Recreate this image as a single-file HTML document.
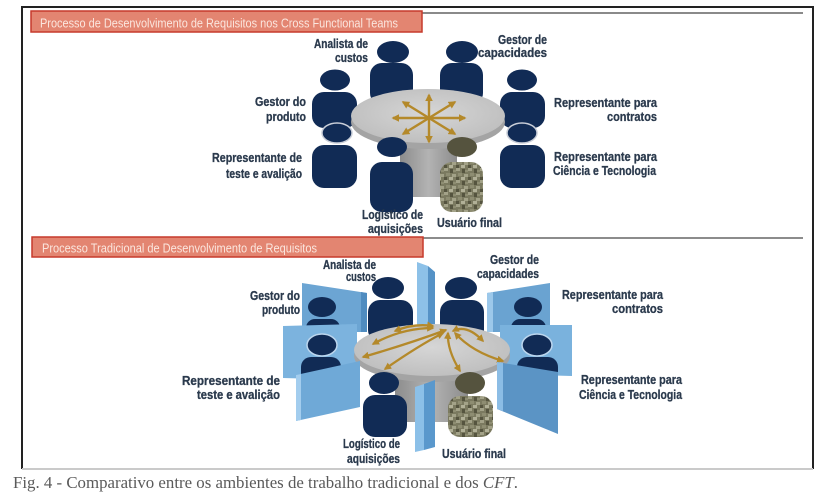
<!DOCTYPE html>
<html>
<head>
<meta charset="utf-8">
<style>
html,body{margin:0;padding:0;background:#fff;}
svg{display:block;}
.lb{font-family:"Liberation Sans Narrow","Liberation Sans",sans-serif;font-weight:bold;font-size:12.5px;fill:#2b3a4d;stroke:#2b3a4d;stroke-width:0.3px;}
.hd{font-family:"Liberation Sans Narrow","Liberation Sans",sans-serif;font-size:13px;fill:#fbe6de;}
.cap{font-family:"Liberation Serif",serif;font-size:16.5px;fill:#5a5a5a;}
</style>
</head>
<body>
<svg width="822" height="498" viewBox="0 0 822 498" xmlns="http://www.w3.org/2000/svg">
<defs>
  <pattern id="camo" width="12" height="12" patternUnits="userSpaceOnUse">
    <rect width="12" height="12" fill="#7b7a60"/>
    <rect x="0" y="0" width="4" height="3" fill="#a3a288"/>
    <rect x="6" y="1" width="3" height="4" fill="#55543f"/>
    <rect x="2" y="5" width="4" height="3" fill="#8e8d72"/>
    <rect x="8" y="6" width="4" height="3" fill="#a3a288"/>
    <rect x="0" y="9" width="3" height="3" fill="#55543f"/>
    <rect x="5" y="9" width="4" height="3" fill="#b1b097"/>
    <rect x="9" y="2" width="3" height="2" fill="#8e8d72"/>
  </pattern>
  <linearGradient id="ped" x1="0" x2="1" y1="0" y2="0">
    <stop offset="0" stop-color="#8c8c8c"/>
    <stop offset="0.5" stop-color="#b3b3b3"/>
    <stop offset="1" stop-color="#8c8c8c"/>
  </linearGradient>
  <radialGradient id="tabtop" cx="0.5" cy="0.45" r="0.6">
    <stop offset="0" stop-color="#d6d6d6"/>
    <stop offset="1" stop-color="#bdbdbd"/>
  </radialGradient>
  <marker id="ah" viewBox="0 0 10 10" refX="8" refY="5" markerWidth="3.2" markerHeight="3.2" orient="auto-start-reverse">
    <path d="M0,0 L10,5 L0,10 z" fill="#b4892a"/>
  </marker>
</defs>

<!-- Frame -->
<line x1="22" y1="7" x2="813" y2="7" stroke="#222" stroke-width="2"/>
<line x1="22" y1="6" x2="22" y2="469" stroke="#222" stroke-width="2"/>
<line x1="813" y1="6" x2="813" y2="469" stroke="#222" stroke-width="2"/>
<line x1="22" y1="469" x2="813" y2="469" stroke="#cacaca" stroke-width="2"/>
<line x1="422" y1="13" x2="803" y2="13" stroke="#8a8a8a" stroke-width="2"/>
<line x1="423" y1="238" x2="803" y2="238" stroke="#666" stroke-width="1.5"/>

<!-- Headers -->
<rect x="31" y="11" width="391" height="21" fill="#e38571" stroke="#c63a2c" stroke-width="1.5"/>
<text class="hd" x="40" y="27.5" textLength="358" lengthAdjust="spacingAndGlyphs">Processo de Desenvolvimento de Requisitos nos Cross Functional Teams</text>
<rect x="32" y="237" width="391" height="20" fill="#e38571" stroke="#c63a2c" stroke-width="1.5"/>
<text class="hd" x="42" y="252.5" textLength="275" lengthAdjust="spacingAndGlyphs">Processo Tradicional de Desenvolvimento de Requisitos</text>

<!-- ===== TOP SCENE ===== -->
<g fill="#112b55">
  <ellipse cx="393" cy="52" rx="16" ry="11"/>
  <rect x="370" y="63" width="43" height="42" rx="12"/>
  <ellipse cx="462" cy="52" rx="16" ry="11"/>
  <rect x="440" y="63" width="43" height="42" rx="12"/>
  <ellipse cx="335" cy="80" rx="15" ry="10.5"/>
  <rect x="312" y="92" width="45" height="36" rx="12"/>
  <ellipse cx="522" cy="80" rx="15" ry="10.5"/>
  <rect x="500" y="92" width="45" height="36" rx="12"/>
</g>
<!-- table -->
<rect x="400" y="138" width="57" height="59" fill="url(#ped)"/>
<ellipse cx="428" cy="122" rx="77" ry="27" fill="#a4a4a4"/>
<ellipse cx="428" cy="116" rx="77" ry="27" fill="url(#tabtop)"/>
<!-- star arrows -->
<g stroke="#b4892a" stroke-width="2.4" fill="none" marker-end="url(#ah)">
  <line x1="429" y1="118" x2="393" y2="118"/>
  <line x1="429" y1="118" x2="465" y2="118"/>
  <line x1="429" y1="118" x2="429" y2="95"/>
  <line x1="429" y1="118" x2="429" y2="142"/>
  <line x1="429" y1="118" x2="403" y2="102"/>
  <line x1="429" y1="118" x2="455" y2="102"/>
  <line x1="429" y1="118" x2="403" y2="134"/>
  <line x1="429" y1="118" x2="455" y2="134"/>
</g>
<g fill="#112b55">
  <ellipse cx="337" cy="133" rx="15" ry="10" stroke="#c9ced8" stroke-width="1.5"/>
  <rect x="312" y="145" width="45" height="43" rx="12"/>
  <ellipse cx="522" cy="133" rx="15" ry="10" stroke="#c9ced8" stroke-width="1.5"/>
  <rect x="500" y="145" width="45" height="43" rx="12"/>
  <ellipse cx="392" cy="147" rx="15" ry="10"/>
  <rect x="370" y="162" width="43" height="50" rx="12"/>
</g>
<ellipse cx="462" cy="147" rx="15" ry="10" fill="#55533e"/>
<rect x="440" y="162" width="43" height="50" rx="12" fill="url(#camo)"/>

<!-- top labels -->
<text class="lb" x="314" y="48" textLength="54" lengthAdjust="spacingAndGlyphs">Analista de</text>
<text class="lb" x="335" y="62" textLength="33" lengthAdjust="spacingAndGlyphs">custos</text>
<text class="lb" x="498" y="44" textLength="49" lengthAdjust="spacingAndGlyphs">Gestor de</text>
<text class="lb" x="478" y="57" textLength="69" lengthAdjust="spacingAndGlyphs">capacidades</text>
<text class="lb" x="255" y="106" textLength="51" lengthAdjust="spacingAndGlyphs">Gestor do</text>
<text class="lb" x="266" y="121" textLength="40" lengthAdjust="spacingAndGlyphs">produto</text>
<text class="lb" x="212" y="162" textLength="90" lengthAdjust="spacingAndGlyphs">Representante de</text>
<text class="lb" x="226" y="178" textLength="76" lengthAdjust="spacingAndGlyphs">teste e avalição</text>
<text class="lb" x="554" y="107" textLength="103" lengthAdjust="spacingAndGlyphs">Representante para</text>
<text class="lb" x="607" y="121" textLength="50" lengthAdjust="spacingAndGlyphs">contratos</text>
<text class="lb" x="554" y="161" textLength="103" lengthAdjust="spacingAndGlyphs">Representante para</text>
<text class="lb" x="553" y="175" textLength="103" lengthAdjust="spacingAndGlyphs">Ciência e Tecnologia</text>
<text class="lb" x="362" y="219" textLength="61" lengthAdjust="spacingAndGlyphs">Logístico de</text>
<text class="lb" x="368" y="233" textLength="55" lengthAdjust="spacingAndGlyphs">aquisições</text>
<text class="lb" x="437" y="227" textLength="65" lengthAdjust="spacingAndGlyphs">Usuário final</text>

<!-- ===== BOTTOM SCENE ===== -->
<!-- back center panel -->
<polygon points="417,262 428,266 428,332 417,332" fill="#8dc1e8"/>
<polygon points="428,266 435,272 435,332 428,332" fill="#5592c6"/>
<!-- back people -->
<g fill="#112b55">
  <ellipse cx="388" cy="288" rx="16" ry="11"/>
  <rect x="368" y="300" width="45" height="42" rx="12"/>
  <ellipse cx="461" cy="288" rx="16" ry="11"/>
  <rect x="440" y="300" width="44" height="42" rx="12"/>
</g>
<!-- left back panel -->
<polygon points="302,283 367,293 367,332 302,332" fill="#6ca5d3"/>
<polygon points="361,292 367,293 367,332 361,332" fill="#4f8cc0"/>
<g fill="#112b55">
  <ellipse cx="322" cy="307" rx="14" ry="10"/>
  <rect x="306" y="319" width="34" height="20" rx="9"/>
</g>
<!-- right back panel -->
<polygon points="487,293 550,283 550,332 487,332" fill="#6aa3d1"/>
<polygon points="487,293 493,292 493,332 487,332" fill="#9cc8ea"/>
<g fill="#112b55">
  <ellipse cx="528" cy="307" rx="14" ry="10"/>
  <rect x="511" y="319" width="35" height="20" rx="9"/>
</g>
<!-- left middle panel -->
<polygon points="283,326 357,324 357,380 283,378" fill="#7cb3de"/>
<g fill="#112b55">
  <ellipse cx="322" cy="345" rx="15" ry="11" stroke="#bcd6ee" stroke-width="1.5"/>
  <rect x="301" y="357" width="40" height="30" rx="10"/>
</g>
<!-- right middle panel -->
<polygon points="500,325 572,325 572,376 500,374" fill="#7ab2dd"/>
<g fill="#112b55">
  <ellipse cx="537" cy="345" rx="15" ry="11" stroke="#bcd6ee" stroke-width="1.5"/>
  <rect x="517" y="357" width="41" height="28" rx="10"/>
</g>
<!-- table -->
<rect x="395" y="362" width="73" height="60" fill="url(#ped)"/>
<ellipse cx="432" cy="356" rx="78" ry="26" fill="#a4a4a4"/>
<ellipse cx="432" cy="350" rx="78" ry="26" fill="url(#tabtop)"/>
<!-- curved arrows -->
<g stroke="#b4892a" stroke-width="2.3" fill="none" marker-start="url(#ah)" marker-end="url(#ah)">
  <path d="M395,331 Q414,323 433,326"/>
  <path d="M373,344 Q402,328 433,328"/>
  <path d="M363,357 Q408,344 446,330"/>
  <path d="M385,369 Q418,346 443,333"/>
  <path d="M460,371 Q447,350 448,333"/>
  <path d="M503,361 Q472,352 455,333"/>
  <path d="M483,341 Q467,324 453,331"/>
</g>
<!-- left front panel -->
<polygon points="296,375 360,361 360,407 296,421" fill="#6fa9d7"/>
<polygon points="296,375 301,374 301,420 296,421" fill="#a3cdee"/>
<!-- right front panel -->
<polygon points="497,362 558,372 558,434 497,409" fill="#5b94c5"/>
<polygon points="497,362 503,363 503,411 497,409" fill="#8cbde5"/>
<!-- front people -->
<g fill="#112b55">
  <ellipse cx="384" cy="383" rx="15" ry="11"/>
  <rect x="363" y="395" width="44" height="42" rx="12"/>
</g>
<ellipse cx="470" cy="383" rx="15" ry="11" fill="#55533e"/>
<rect x="448" y="396" width="45" height="41" rx="12" fill="url(#camo)"/>
<!-- front center panel -->
<polygon points="415,387 424,384 424,450 415,452" fill="#8cc0e8"/>
<polygon points="424,384 435,380 435,447 424,450" fill="#5a98cc"/>

<!-- bottom labels -->
<text class="lb" x="323" y="269" textLength="53" lengthAdjust="spacingAndGlyphs">Analista de</text>
<text class="lb" x="346" y="281" textLength="30" lengthAdjust="spacingAndGlyphs">custos</text>
<text class="lb" x="250" y="300" textLength="50" lengthAdjust="spacingAndGlyphs">Gestor do</text>
<text class="lb" x="262" y="314" textLength="38" lengthAdjust="spacingAndGlyphs">produto</text>
<text class="lb" x="182" y="385" textLength="98" lengthAdjust="spacingAndGlyphs">Representante de</text>
<text class="lb" x="197" y="399" textLength="83" lengthAdjust="spacingAndGlyphs">teste e avalição</text>
<text class="lb" x="343" y="448" textLength="57" lengthAdjust="spacingAndGlyphs">Logístico de</text>
<text class="lb" x="347" y="463" textLength="53" lengthAdjust="spacingAndGlyphs">aquisições</text>
<text class="lb" x="490" y="264" textLength="49" lengthAdjust="spacingAndGlyphs">Gestor de</text>
<text class="lb" x="477" y="278" textLength="62" lengthAdjust="spacingAndGlyphs">capacidades</text>
<text class="lb" x="562" y="299" textLength="101" lengthAdjust="spacingAndGlyphs">Representante para</text>
<text class="lb" x="612" y="313" textLength="51" lengthAdjust="spacingAndGlyphs">contratos</text>
<text class="lb" x="581" y="384" textLength="101" lengthAdjust="spacingAndGlyphs">Representante para</text>
<text class="lb" x="579" y="399" textLength="103" lengthAdjust="spacingAndGlyphs">Ciência e Tecnologia</text>
<text class="lb" x="442" y="458" textLength="64" lengthAdjust="spacingAndGlyphs">Usuário final</text>

<!-- caption -->
<text class="cap" x="13" y="488" textLength="505" lengthAdjust="spacingAndGlyphs">Fig. 4 - Comparativo entre os ambientes de trabalho tradicional e dos <tspan font-style="italic">CFT</tspan>.</text>
</svg>
</body>
</html>
